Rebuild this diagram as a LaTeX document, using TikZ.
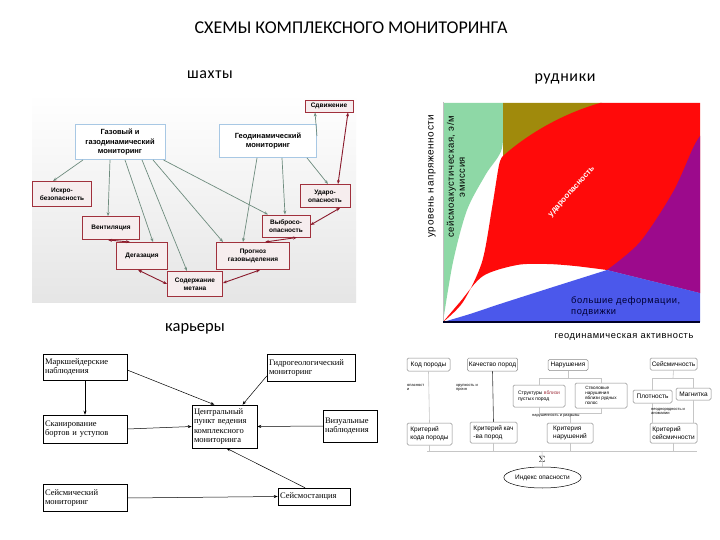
\documentclass[tikz,border=0pt]{standalone}
\usepackage{fontspec}
\setmainfont{Liberation Sans}
\newfontfamily\fcarl{Carlito}
\newfontfamily\fcarlsp[LetterSpace=4]{Carlito}
\newfontfamily\fser{Liberation Serif}
\newfontfamily\fsp[LetterSpace=6]{Liberation Sans}
\usetikzlibrary{arrows.meta,shapes.geometric}
\definecolor{redbd}{HTML}{A0303C}
\definecolor{pinkf}{HTML}{F6EDEE}
\definecolor{bluebd}{HTML}{A8C8E4}
\definecolor{garr}{HTML}{6E8C7E}
\definecolor{rarr}{HTML}{8A1A2C}
\definecolor{cgreen}{HTML}{8ED8A6}
\definecolor{colive}{HTML}{A08A0C}
\definecolor{cred}{HTML}{FF0A0A}
\definecolor{cpurp}{HTML}{9C0A8C}
\definecolor{cblue}{HTML}{4B58EB}
\definecolor{brgray}{HTML}{8A8A8A}
\tikzset{
  redb/.style={draw=redbd, fill=pinkf, line width=0.9pt, align=center, inner sep=1pt,
    font=\fontsize{6.5}{8}\selectfont\bfseries},
  blueb/.style={draw=bluebd, fill=white, line width=0.9pt, align=center, inner sep=1pt,
    font=\fontsize{7.5}{9.5}\selectfont\bfseries},
  garrow/.style={draw=garr, line width=0.7pt, -{Stealth[length=4pt,width=3pt]}},
  rarrow/.style={draw=rarr, line width=0.9pt, {Stealth[length=4pt,width=3pt]}-{Stealth[length=4pt,width=3pt]}},
  blbox/.style={draw=black, line width=0.5pt, fill=white, align=left, inner sep=2pt,
    font=\fser\fontsize{8.5}{9.5}\selectfont},
  barrow/.style={draw=black, line width=0.5pt, -{Stealth[length=4pt,width=3pt]}},
  brbox/.style={draw=brgray, line width=0.5pt, fill=white, rounded corners=1.5pt, align=left, inner sep=1.5pt,
    font=\fontsize{6.5}{8}\selectfont},
  brsmall/.style={draw=brgray, line width=0.5pt, fill=white, rounded corners=1.5pt, align=left, inner sep=1pt,
    font=\fontsize{5}{5.8}\selectfont},
  brline/.style={draw=gray!45, line width=0.6pt},
  tinylab/.style={font=\fontsize{4}{4.6}\selectfont, align=left, inner sep=0pt, anchor=north west},
  chartlab/.style={font=\fsp\fontsize{9.3}{11}\selectfont, inner sep=0pt},
}
\begin{document}
\begin{tikzpicture}[x=1pt,y=-1pt]
\useasboundingbox (0,0) rectangle (720,540);
\fill[white] (0,0) rectangle (720,540);

% ---------- headings ----------
\node[font=\fcarl\fontsize{18}{20}\selectfont] (title) at (351,28) {СХЕМЫ КОМПЛЕКСНОГО МОНИТОРИНГА};
\node[font=\fcarlsp\fontsize{16}{18}\selectfont] (hshaft) at (210,75) {шахты};
\node[font=\fcarlsp\fontsize{16}{18}\selectfont] (hmine) at (565,79) {рудники};
\node[font=\fcarl\fontsize{16.5}{18}\selectfont] (hpit) at (195,329) {карьеры};

% ---------- top-left diagram (shafts) ----------
\shade[top color=white, bottom color=black!10] (32,93) rectangle (356,302);
\node[redb, minimum width=48pt, minimum height=12pt] (sdv) at (329,106) {Сдвижение};
\node[blueb, minimum width=90pt, minimum height=35pt] (gaz) at (120,142) {Газовый и\\газодинамический\\мониторинг};
\node[blueb, minimum width=97pt, minimum height=33pt] (geo) at (268,141) {Геодинамический\\мониторинг};
\node[redb, minimum width=59pt, minimum height=25pt] (iskr) at (62,194) {Искро-\\безопасность};
\node[redb, minimum width=50pt, minimum height=23pt] (udar) at (325,196) {Ударо-\\опасность};
\node[redb, minimum width=57pt, minimum height=23pt] (vent) at (111,228) {Вентиляция};
\node[redb, minimum width=48pt, minimum height=22pt] (vybr) at (286,226) {Выбросо-\\опасность};
\node[redb, minimum width=51pt, minimum height=27pt] (degaz) at (142,256) {Дегазация};
\node[redb, minimum width=73pt, minimum height=27pt] (progn) at (253,256) {Прогноз\\газовыделения};
\node[redb, minimum width=55pt, minimum height=25pt] (metan) at (195,284) {Содержание\\метана};

\draw[garrow] ([xshift=-37pt]gaz.south) -- ([xshift=-9pt]iskr.north);
\draw[garrow] ([xshift=-10pt]gaz.south) -- ([xshift=-3pt]vent.north);
\draw[garrow] ([xshift=5pt]gaz.south) -- ([xshift=11pt]degaz.north);
\draw[garrow] ([xshift=22pt]gaz.south) -- ([xshift=-8pt]metan.north);
\draw[garrow] ([xshift=33pt]gaz.south) -- ([xshift=-30pt]progn.north);
\draw[garrow] ([xshift=-2pt]gaz.south east) -- ([xshift=-18pt]vybr.north);
\draw[garrow] ([yshift=5pt]geo.east) -- ([xshift=-14pt]sdv.south);
\draw[garrow] ([xshift=-11pt]geo.south) -- ([xshift=-10pt]progn.north);
\draw[garrow] ([xshift=14pt]geo.south) -- ([xshift=-1pt]vybr.north);
\draw[garrow] ([xshift=39pt]geo.south) -- ([xshift=3pt]udar.north);

\draw[rarrow] ([xshift=19pt]sdv.south) -- ([xshift=13pt]udar.north);
\draw[rarrow] ([xshift=15pt]udar.south) -- ([yshift=1pt]vybr.east);
\draw[rarrow] ([xshift=11pt]vybr.south) -- ([xshift=12pt]progn.north);
\draw[rarrow] ([xshift=7pt]progn.south) -- ([yshift=1pt]metan.east);
\draw[rarrow] (metan.west) -- ([xshift=-4pt]degaz.south);
\draw[rarrow] ([xshift=-12pt]degaz.north) -- ([xshift=-3pt]vent.south);

% ---------- top-right chart (ore mines) ----------
\fill[white] (443,103) rectangle (700,322);
\fill[cgreen] (443,103) -- (503,103) -- plot[smooth] coordinates {(503,103) (502,148) (486,174) (467,210) (453,262) (443,322)} -- cycle;
\fill[colive] (503,103) -- (602,103) -- (503,160) -- cycle;
\fill[cred] (443,322) -- plot[smooth] coordinates {(443,322) (463,302) (482,262) (492,208) (499,165) (503,156)}
  .. controls (530,132) and (565,113) .. (600,103) -- (700,103) -- (700,293) -- (607,270)
  -- plot[smooth] coordinates {(607,270) (575,266) (547,264) (517,265) (483,276) (460,302) (443,322)} -- cycle;
\fill[cpurp] plot[smooth] coordinates {(700,136) (693,148) (673,192) (640,242) (607,270)} -- (700,293) -- cycle;
\fill[cblue] plot[smooth] coordinates {(443,322) (470,314) (500,304) (550,288) (607,270)} -- (700,293) -- (700,322) -- cycle;
\draw[black!25, line width=0.6pt] (443,102) -- (443,322);
\draw[black!85!blue, line width=1.4pt] (443,322) -- (700,322);

\node[chartlab, rotate=90, font=\fsp\fontsize{10}{11}\selectfont] (ylab) at (432,176) {уровень напряженности};
\node[chartlab, rotate=90, align=center, font=\fsp\fontsize{9.5}{11}\selectfont] (emis) at (456,177) {сейсмоакустическая, э/м\\эмиссия};
\node[font=\bfseries\fontsize{8}{9}\selectfont, text=white, rotate=48, inner sep=0pt] (burst) at (572,192) {удароопасность};
\node[chartlab, align=left, anchor=north west, text=black!80!blue, font=\fsp\fontsize{9.3}{11}\selectfont] (deform) at (571,296) {большие деформации,\\подвижки};
\node[chartlab] (xlab) at (624,337) {геодинамическая активность};

% ---------- bottom-left diagram (open pits) ----------
\node[blbox, minimum width=84pt, minimum height=26pt, text width=80pt] (mark) at (85,367) {Маркшейдерские\\наблюдения};
\node[blbox, minimum width=88pt, minimum height=27pt, text width=84pt] (gidro) at (311,368) {Гидрогеологический\\мониторинг};
\node[blbox, minimum width=84pt, minimum height=28pt, text width=80pt] (skan) at (85,429) {Сканирование\\бортов и уступов};
\node[blbox, minimum width=65pt, minimum height=43pt, text width=61pt] (centr) at (224.5,426.5) {Центральный\\пункт ведения\\комплексного\\мониторинга};
\node[blbox, minimum width=54pt, minimum height=32pt, text width=50pt] (vizu) at (350,426) {Визуальные\\наблюдения};
\node[blbox, minimum width=84pt, minimum height=27pt, text width=80pt] (seism) at (85,498) {Сейсмический\\мониторинг};
\node[blbox, minimum width=72pt, minimum height=17pt, text width=68pt] (stan) at (314,496.5) {Сейсмостанция};

\draw[barrow] (mark.south) -- (skan.north);
\draw[barrow] ([yshift=-3pt]mark.east) -- ([xshift=-10pt]centr.north);
\draw[barrow] ([yshift=-8pt]gidro.west) -- ([xshift=18pt]centr.north);
\draw[barrow] (skan.east) -- (centr.west);
\draw[barrow] (vizu.west) -- (centr.east);
\draw[barrow] ([xshift=-9pt]stan.north) -- ([xshift=2pt]centr.south);
\draw[barrow] (seism.east) -- (stan.west);

% ---------- bottom-right diagram ----------
\node[brbox, minimum width=43pt, minimum height=13pt] (kod) at (428.5,364.5) {Код породы};
\node[brbox, minimum width=45pt, minimum height=13pt] (kach) at (492.5,364.5) {Качество пород};
\node[brbox, minimum width=40pt, minimum height=11pt] (narush) at (568,365) {Нарушения};
\node[brbox, minimum width=47pt, minimum height=12pt] (seis) at (673.5,364) {Сейсмичность};
\node[brsmall, minimum width=52pt, minimum height=22pt] (struct) at (539,396) {Структуры \textcolor{redbd}{вблизи}\\пустых пород};
\node[brsmall, minimum width=52pt, minimum height=25pt, font=\fontsize{4.6}{5.2}\selectfont] (stvol) at (601,395.5) {Стволовые\\нарушения\\вблизи рудных\\полос};
\node[brbox, minimum width=39pt, minimum height=13pt] (plot) at (652.5,396.5) {Плотность};
\node[brbox, minimum width=35pt, minimum height=12pt] (magn) at (693.5,394) {Магнитка};
\node[brbox, minimum width=45pt, minimum height=22pt] (crkod) at (429.5,434) {Критерий\\кода породы};
\node[brbox, minimum width=47pt, minimum height=21pt] (crkach) at (493.5,432.5) {Критерий кач\\-ва пород};
\node[brbox, minimum width=46pt, minimum height=20pt] (crnar) at (570,433) {Критерия\\нарушений};
\node[brbox, minimum width=47pt, minimum height=20pt] (crseis) at (673.5,433) {Критерий\\сейсмичности};
\node[draw=black, line width=0.5pt, ellipse, minimum width=59pt, minimum height=21pt, inner sep=0pt,
  font=\fontsize{6.5}{8}\selectfont] (index) at (542.5,477.5) {Индекс опасности};
\node[font=\fontsize{9}{10}\selectfont, inner sep=0pt] (sigma) at (542,459) {$\Sigma$};

\coordinate (busL) at (427,451);
\coordinate (busR) at (697,451);
\draw[brline] (busL) -- (busR);
\draw[brline] (kod.south) -- (crkod.north);
\draw[brline, draw=black!75] (kach.south) -- (crkach.north);
\draw[brline] (crkod.south) -- (crkod.south |- busL);
\draw[brline] (crkach.south) -- (crkach.south |- busL);
\draw[brline] (crnar.south) -- (crnar.south |- busL);
\draw[brline] (crseis.south) -- (crseis.south |- busL);
\draw[brline] (sigma.south |- busL) -- (index.north);

\coordinate (nbar) at (568,378);
\draw[brline] (narush.south) -- (nbar);
\draw[brline] (struct.north |- nbar) -- (stvol.north |- nbar);
\draw[brline] (struct.north |- nbar) -- (struct.north);
\draw[brline] (stvol.north |- nbar) -- (stvol.north);
\coordinate (nbar2) at (570,413);
\draw[brline] (struct.south) -- (struct.south |- nbar2) -- (stvol.south |- nbar2) -- (stvol.south);
\draw[brline] (nbar2) -- (crnar.north);

\coordinate (sbar) at (673,378);
\draw[brline] (seis.south) -- (sbar);
\draw[brline] (plot.north |- sbar) -- (magn.north |- sbar);
\draw[brline] (plot.north |- sbar) -- (plot.north);
\draw[brline] (magn.north |- sbar) -- (magn.north);
\draw[brline] (plot.south) -- (crseis.north -| plot.south);
\draw[brline] (magn.south) -- (magn.south |- crseis.north);

\node[tinylab] (lab1) at (407,384) {опасност\\и};
\node[tinylab] (lab2) at (456,384) {хрупкость и\\прочн};
\node[tinylab] (lab3) at (532,414) {нарушенность и разрывы};
\node[tinylab] (lab4) at (651,408) {неоднородность и\\аномалии};
\end{tikzpicture}
\end{document}
